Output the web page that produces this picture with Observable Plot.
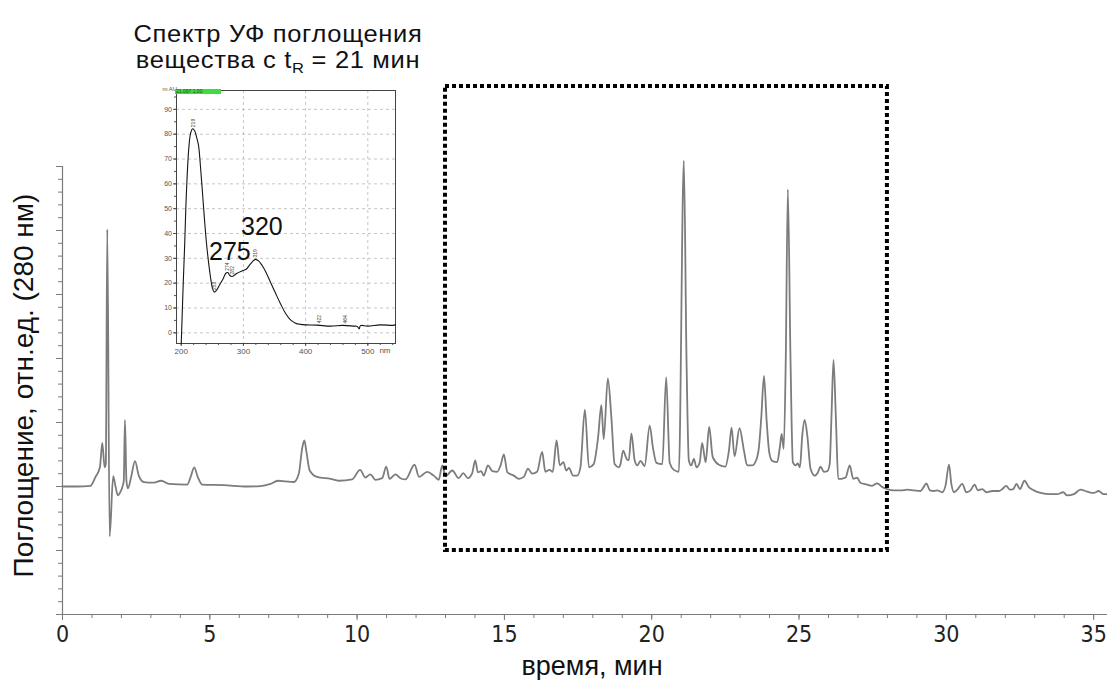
<!DOCTYPE html>
<html>
<head>
<meta charset="utf-8">
<script src="https://cdn.jsdelivr.net/npm/d3@7"></script>
<script src="https://cdn.jsdelivr.net/npm/@observablehq/plot@0.6"></script>
<style>
  html, body { margin: 0; padding: 0; background: #fff; }
  #wrap { position: relative; width: 1107px; height: 680px; overflow: hidden; background: #fff; font-family: "Liberation Sans", Arial, sans-serif; }
  #wrap svg { position: absolute; }
  .title { position: absolute; left: 78px; width: 400px; text-align: center; font-size: 23.2px; line-height: 26px; letter-spacing: 0.6px; color: #111; white-space: nowrap; transform: scaleX(1.1); transform-origin: 200px 50%; }
  .sub { font-size: 15px; position: relative; top: 5px; letter-spacing: 0; }
  #badge { position: absolute; left: 175px; top: 89px; width: 45px; height: 5px; background: #3fdc3f; font-size: 5px; line-height: 5px; color: #1a4d1a; overflow: hidden; padding-left: 1px; }
</style>
</head>
<body>
<div id="wrap">
  <div class="title" style="top:21px">Спектр УФ поглощения</div>
  <div class="title" style="top:47px">вещества с t<span class="sub">R</span> = 21 мин</div>
</div>
<script>
// ---- Chromatogram (280 nm) ----
const time = [0, 0.5, 0.95, 1.12, 1.27, 1.35, 1.43, 1.47, 1.52, 1.60,
  1.72, 1.80, 1.88, 1.97, 2.03, 2.08, 2.12, 2.17, 2.22, 2.33,
  2.46, 2.59, 2.76, 3.10, 3.35, 3.61, 4.23, 4.35, 4.47, 4.59,
  4.74, 5.48, 6.27, 6.72, 7.06, 7.31, 7.57, 7.85, 8.02, 8.14,
  8.21, 8.28, 8.39, 8.64, 9.10, 9.38, 9.83, 10.10, 10.28, 10.45,
  10.62, 10.85, 10.99, 11.10, 11.30, 11.47, 11.64, 11.95, 12.10, 12.38,
  12.60, 12.77, 12.89, 13.00, 13.23, 13.45, 13.60, 13.76, 13.90, 14.01,
  14.10, 14.21, 14.30, 14.44, 14.59, 14.75, 14.87, 14.98, 15.10, 15.32,
  15.49, 15.66, 15.80, 15.94, 16.11, 16.28, 16.39, 16.53, 16.64, 16.77,
  16.88, 17.00, 17.10, 17.19, 17.33, 17.47, 17.58, 17.73, 17.87, 18.03,
  18.18, 18.29, 18.37, 18.51, 18.63, 18.74, 18.88, 18.94, 19.03, 19.15,
  19.22, 19.31, 19.42, 19.51, 19.62, 19.76, 19.93, 20.04, 20.16, 20.36,
  20.49, 20.61, 20.75, 20.92, 21.09, 21.18, 21.26, 21.34, 21.43, 21.52,
  21.63, 21.71, 21.83, 21.95, 22.07, 22.28, 22.50, 22.62, 22.71, 22.81,
  22.98, 23.13, 23.24, 23.41, 23.56, 23.64, 23.72, 23.81, 23.90, 23.99,
  24.09, 24.26, 24.35, 24.41, 24.48, 24.55, 24.62, 24.71, 24.79, 24.88,
  24.96, 25.03, 25.11, 25.19, 25.28, 25.39, 25.53, 25.64, 25.73, 25.84,
  25.96, 26.04, 26.10, 26.17, 26.25, 26.33, 26.43, 26.58, 26.72, 26.84,
  26.97, 27.08, 27.31, 27.48, 27.65, 27.83, 27.99, 28.22, 28.45, 28.67,
  28.90, 29.12, 29.23, 29.32, 29.44, 29.58, 29.69, 29.86, 29.97, 30.09,
  30.17, 30.26, 30.39, 30.54, 30.68, 30.82, 30.96, 31.07, 31.22, 31.36,
  31.56, 31.78, 31.90, 32.03, 32.16, 32.27, 32.38, 32.50, 32.65, 32.80,
  32.97, 33.20, 33.54, 33.76, 33.97, 34.10, 34.33, 34.55, 34.78, 35.00,
  35.17, 35.34, 35.47];
const absorbance = [0, 0, 0.1, 1.5, 3.0, 6.8, 3.0, 3.5, 40.2, -7.8,
  1.6, 0, -1.4, -0.8, -0.1, 0.9, 10.4, 0.9, -0.3, 1.5,
  3.95, 1.7, 0.7, 0.6, 0.9, 0.4, 0.3, 1.5, 3.0, 1.5,
  0.3, 0.2, 0, 0.05, 0.4, 0.9, 0.8, 0.7, 2.0, 6.1,
  7.2, 5.4, 2.5, 1.5, 1.2, 0.9, 1.1, 2.6, 1.4, 1.9,
  1.05, 1.3, 3.1, 1.2, 1.9, 1.3, 1.1, 3.4, 1.5, 2.3,
  1.7, 1.05, 3.3, 1.6, 2.5, 1.3, 2.1, 1.3, 2.0, 4.06,
  2.2, 2.4, 1.7, 3.3, 2.4, 2.3, 3.3, 5.0, 2.2, 1.7,
  1.2, 1.5, 2.8, 2.0, 2.3, 5.4, 2.3, 2.6, 2.3, 7.2,
  3.3, 3.8, 2.5, 2.9, 1.7, 1.7, 3.0, 12.0, 3.0, 3.5,
  7.7, 12.7, 7.4, 16.9, 10.8, 3.5, 3.0, 3.5, 5.6, 4.3,
  4.1, 8.3, 4.1, 3.3, 4.0, 3.2, 9.5, 6.1, 3.7, 3.5,
  17.1, 3.7, 2.6, 2.3, 50.9, 20.0, 4.06, 3.3, 4.3, 3.0,
  3.8, 6.8, 3.8, 9.3, 4.6, 3.4, 3.1, 5.6, 9.2, 4.7,
  9.1, 5.6, 3.3, 3.3, 4.3, 6.2, 10.9, 17.3, 10.3, 5.3,
  4.0, 3.8, 6.2, 8.2, 5.9, 20.0, 46.4, 20.0, 3.8, 3.3,
  3.6, 3.0, 8.0, 10.4, 8.0, 2.8, 1.7, 2.2, 3.1, 2.3,
  2.4, 3.5, 10.8, 19.8, 10.8, 1.2, 1.2, 1.4, 3.3, 1.2,
  1.4, 0.6, 0.3, 0.1, 0.5, -0.1, -0.4, -0.6, -0.6, -0.5,
  -0.6, -0.7, -0.1, 0.5, -0.6, -0.7, -0.6, -0.9, 0.1, 3.4,
  0.4, -0.9, -0.4, 0.4, -0.9, -0.6, 0.3, -0.6, -0.4, -0.9,
  -0.7, -0.7, -0.4, 0.1, -0.5, -0.4, 0.4, -0.4, 0.9, -0.1,
  -0.6, -1.0, -1.2, -1.2, -0.9, -1.4, -1.2, -0.5, -0.8, -1.0,
  -0.7, -1.2, -1.2];

const timeMajorTicks = [0, 5, 10, 15, 20, 25, 30, 35];
const timeMinorTicks = d3.range(0, 36, 1);
const absMajorTicks = [-20, -10, 0, 10, 20, 30, 40, 50];
const absMinorTicks = d3.range(-20, 51, 2);
const windowTime = [13, 28];
const windowAbs = [-10, 62.5];
const xTitle = "время, мин";
const yTitle = "Поглощение, отн.ед. (280 нм)";

// ---- UV spectrum of compound at tR = 21 min ----
const wavelength = [200.0, 201.6, 203.2, 205.4, 208.5, 212.3, 215.0, 218.2, 221.4, 224.6,
  227.8, 231.0, 234.3, 237.5, 240.7, 243.9, 247.1, 249.8, 253.0, 256.7,
  262.1, 267.4, 271.7, 274.9, 278.1, 281.9, 289.9, 299.6, 304.9, 309.2,
  314.6, 319.4, 324.8, 330.1, 336.0, 343.5, 351.5, 359.6, 367.6, 375.7,
  383.7, 391.7, 399.8, 418.6, 440.0, 459.8, 477.5, 482.9, 486.1, 488.2,
  500.0, 520.4, 540.3, 544.5];
const spectrum = [-4.4, 7.7, 19.7, 34.5, 57.4, 74.8, 80.2, 82.2, 81.5, 78.9,
  75.5, 66.8, 56.0, 45.3, 35.9, 28.5, 22.4, 18.4, 16.4, 17.1,
  19.5, 21.8, 24.0, 24.3, 23.1, 22.7, 24.0, 25.1, 25.7, 27.1,
  28.7, 29.6, 28.9, 27.1, 24.5, 20.4, 16.0, 11.7, 7.9, 5.2,
  3.9, 3.4, 3.2, 3.1, 2.7, 3.0, 2.7, 2.6, 1.6, 2.9,
  2.7, 3.2, 3.0, 3.2];
const peakNm = [219, 253, 274, 282, 319, 422, 464];
const bandLabels = [275, 320];
const specXMajor = [200, 300, 400, 500];
const specXMinor = d3.range(200, 541, 20);
const specYMajor = d3.range(0, 91, 10);
const specYMinor = d3.range(0, 96, 5);
const specGridX = [300, 400, 500];
const specGridY = d3.range(0, 91, 10);

// ---- build ----
const chrom = time.map((t, i) => ({t, v: absorbance[i]}));
const windowBox = [{x1: windowTime[0], x2: windowTime[1], y1: windowAbs[0], y2: windowAbs[1]}];
const spec = wavelength.map((nm, i) => ({nm, a: spectrum[i]}));
const absAt = nm => {
  const i = d3.bisectRight(wavelength, nm);
  const i0 = Math.max(0, i - 1), i1 = Math.min(wavelength.length - 1, i);
  if (i0 === i1) return spectrum[i0];
  const f = (nm - wavelength[i0]) / (wavelength[i1] - wavelength[i0]);
  return spectrum[i0] + f * (spectrum[i1] - spectrum[i0]);
};
const peaks = peakNm.map(nm => ({nm, a: absAt(nm), label: String(nm)}));
const bands = bandLabels.map(nm => ({nm, a: absAt(nm), label: String(nm)}));

const wrap = document.getElementById("wrap");
const axisColor = "#7a7a7a";

const main = Plot.plot({
  width: 1107, height: 680,
  marginLeft: 62, marginRight: 0, marginTop: 166, marginBottom: 66,
  x: {domain: [0, 35.47]},
  y: {domain: [-20, 50]},
  style: {background: "transparent", fontFamily: "'Liberation Sans', Arial, sans-serif"},
  marks: [
    Plot.ruleY([-20], {stroke: axisColor, strokeWidth: 1.2}),
    Plot.ruleX([0], {y1: -20, y2: 50, stroke: axisColor, strokeWidth: 1.2}),
    Plot.axisX(timeMinorTicks, {tickSize: 4, tickFormat: () => "", stroke: axisColor, label: null}),
    Plot.axisX(timeMajorTicks, {tickSize: 6, tickPadding: 5, fontSize: 23, fill: "#222", stroke: axisColor, label: null,
      fontFamily: "'DejaVu Sans Condensed', 'DejaVu Sans', sans-serif"}),
    Plot.axisY(absMinorTicks, {tickSize: 4, tickFormat: () => "", stroke: axisColor, label: null}),
    Plot.axisY(absMajorTicks, {tickSize: 6, tickFormat: () => "", stroke: axisColor, label: null}),
    Plot.line(chrom, {x: "t", y: "v", stroke: "#7c7c7c", strokeWidth: 1.8, curve: "monotone-x"}),
    Plot.rect(windowBox, {x1: "x1", x2: "x2", y1: "y1", y2: "y2", fill: "none", stroke: "#000",
      strokeWidth: 4, strokeDasharray: "4,3"}),
    Plot.text([xTitle], {frameAnchor: "bottom", textAnchor: "middle", dx: 7, dy: 60, fontSize: 27, fill: "#111"}),
    Plot.text([yTitle], {frameAnchor: "left", textAnchor: "middle", rotate: -90, dx: -38, dy: -5, fontSize: 28, fill: "#111"})
  ]
});
main.style.left = "0px";
main.style.top = "0px";
wrap.appendChild(main);

const inset = Plot.plot({
  width: 280, height: 292,
  marginLeft: 46, marginRight: 15, marginTop: 12, marginBottom: 27,
  x: {domain: [192.4, 544.5]},
  y: {domain: [-4.3, 97.6]},
  style: {background: "transparent", fontFamily: "'Liberation Sans', Arial, sans-serif"},
  marks: [
    Plot.ruleY(specGridY, {stroke: "#b8b8b8", strokeDasharray: "3,3", strokeWidth: 0.8}),
    Plot.ruleX(specGridX, {stroke: "#b8b8b8", strokeDasharray: "3,3", strokeWidth: 0.8}),
    Plot.axisY(specYMinor, {tickSize: 2, tickFormat: () => "", stroke: "#555", label: null}),
    Plot.axisY(specYMajor, {tickSize: 3, tickPadding: 1.5, fontSize: 7, fill: "#555", stroke: "#555", label: null}),
    Plot.axisX(specXMinor, {tickSize: 2, tickFormat: () => "", stroke: "#555", label: null}),
    Plot.axisX(specXMajor, {tickSize: 3, tickPadding: 1.5, fontSize: 8, fill: "#555", stroke: "#555", label: null}),
    Plot.text(["nm"], {frameAnchor: "bottom-right", dx: -5, dy: 9, fontSize: 8, fill: "#555"}),
    Plot.text(["m AU"], {frameAnchor: "top-left", textAnchor: "start", dx: -14, dy: -3.5, fontSize: 6, fill: "#555"}),
    Plot.frame({stroke: "#444", strokeWidth: 1}),
    Plot.line(spec, {x: "nm", y: "a", stroke: "#151515", strokeWidth: 1.1, curve: "catmull-rom"}),
    Plot.text(peaks, {x: "nm", y: "a", text: "label", rotate: -90, textAnchor: "start", dy: -2, fontSize: 5, fill: "#444"}),
    Plot.text(bands.slice(0, 1), {x: "nm", y: "a", text: "label", dx: 2, dy: -21, fontSize: 25, fill: "#111"}),
    Plot.text(bands.slice(1), {x: "nm", y: "a", text: "label", dx: 6, dy: -33, fontSize: 25, fill: "#111"})
  ]
});
inset.style.left = "130px";
inset.style.top = "78px";
wrap.appendChild(inset);

const badge = document.createElement("div");
badge.id = "badge";
badge.textContent = "21.097 1.00";
wrap.appendChild(badge);
</script>
</body>
</html>
